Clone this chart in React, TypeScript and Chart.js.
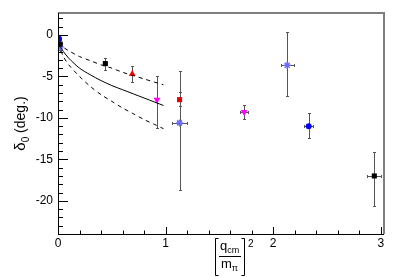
import React, { useEffect, useRef } from "react";
import { Chart, registerables } from "chart.js";

Chart.register(...registerables);

// ---------------- data ----------------
// black squares
const blackX = [0.02, 0.44, 2.94];
const blackY = [-1.1, -3.45, -17.0];
const blackXErr = [0, 0, 0.065];
const blackYLo = [-1.8, -4.2, -20.6];
const blackYHi = [-0.6, -2.8, -14.1];

// blue circles
const blueX = [0.01, 2.33];
const blueY = [-0.45, -11.0];
const blueXErr = [0, 0.04];
const blueYLo = [-0.8, -12.4];
const blueYHi = [-0.2, -9.4];

// light blue stars
const starX = [0.02, 1.13, 2.13];
const starY = [-1.45, -10.6, -3.65];
const starXErr = [0.01, 0.07, 0.06];
const starYLo = [-2.0, -18.7, -7.4];
const starYHi = [-0.9, -4.3, 0.3];

// red triangles
const triX = [0.69];
const triY = [-4.7];
const triXErr = [0];
const triYLo = [-5.7];
const triYHi = [-3.7];

// magenta inverted triangles
const magX = [0.92, 1.73];
const magY = [-7.8, -9.3];
const magXErr = [0, 0.04];
const magYLo = [-11.2, -10.1];
const magYHi = [-5.0, -8.5];

// red squares
const redSqX = [1.13];
const redSqY = [-7.8];
const redSqXErr = [0];
const redSqYLo = [-8.6];
const redSqYHi = [-6.9];

// theory curves
const curveX = [0, 0.05, 0.1, 0.2, 0.3, 0.4, 0.5, 0.6, 0.7, 0.8, 0.9, 0.98];
const solidY = [-1.0, -2.0, -2.8, -4.0, -4.8, -5.5, -6.1, -6.6, -7.1, -7.6, -8.1, -8.5];
const upperY = [-1.0, -1.5, -1.9, -2.6, -3.1, -3.6, -4.0, -4.5, -4.9, -5.3, -5.7, -6.0];
const lowerY = [-1.0, -2.6, -3.6, -5.0, -6.2, -7.2, -8.0, -8.8, -9.5, -10.2, -10.8, -11.3];

// axes
const xMin = 0;
const xMax = 3.03;
const yMin = -24;
const yMax = 2.65;
const xMajorStep = 1;
const xMinorStep = 0.2;
const yMajorStep = 5;
const yMinorStep = 1;

const FONT = "'Liberation Sans', Arial, Helvetica, sans-serif";

function pts(xs: number[], ys: number[]) {
  return xs.map((x, i) => ({ x, y: ys[i] }));
}

const errorBarPlugin = {
  id: "errorBars",
  beforeDatasetsDraw(chart: any) {
    const ctx = chart.ctx;
    const xs = chart.scales.x;
    const ys = chart.scales.y;
    ctx.save();
    ctx.strokeStyle = "#555555";
    ctx.lineWidth = 1;
    chart.data.datasets.forEach((ds: any) => {
      if (!ds.errYLo) return;
      ds.data.forEach((p: any, i: number) => {
        const px = Math.round(xs.getPixelForValue(p.x)) + 0.5;
        const py = Math.round(ys.getPixelForValue(p.y)) + 0.5;
        const lo = Math.round(ys.getPixelForValue(ds.errYLo[i])) + 0.5;
        const hi = Math.round(ys.getPixelForValue(ds.errYHi[i])) + 0.5;
        ctx.beginPath();
        ctx.moveTo(px, lo);
        ctx.lineTo(px, hi);
        ctx.moveTo(px - 1.5, lo);
        ctx.lineTo(px + 1.5, lo);
        ctx.moveTo(px - 1.5, hi);
        ctx.lineTo(px + 1.5, hi);
        const xe = ds.errX ? ds.errX[i] : 0;
        if (xe > 0) {
          const l = Math.round(xs.getPixelForValue(p.x - xe)) + 0.5;
          const r = Math.round(xs.getPixelForValue(p.x + xe)) + 0.5;
          ctx.moveTo(l, py);
          ctx.lineTo(r, py);
          ctx.moveTo(l, py - 1.5);
          ctx.lineTo(l, py + 1.5);
          ctx.moveTo(r, py - 1.5);
          ctx.lineTo(r, py + 1.5);
        }
        ctx.stroke();
      });
    });
    ctx.restore();
  },
};

const framePlugin = {
  id: "rootFrame",
  afterDraw(chart: any) {
    const ctx = chart.ctx;
    const { left, right, top, bottom } = chart.chartArea;
    const xs = chart.scales.x;
    const ys = chart.scales.y;
    ctx.save();
    // gray frame top/right
    ctx.strokeStyle = "#7f7f7f";
    ctx.lineWidth = 2;
    ctx.beginPath();
    ctx.moveTo(left, top);
    ctx.lineTo(right, top);
    ctx.lineTo(right, bottom);
    ctx.stroke();
    // black axes
    ctx.strokeStyle = "#000000";
    ctx.lineWidth = 1;
    ctx.beginPath();
    ctx.moveTo(left + 0.5, top);
    ctx.lineTo(left + 0.5, bottom + 0.5);
    ctx.lineTo(right, bottom + 0.5);
    ctx.stroke();
    // y ticks
    ctx.beginPath();
    const nY0 = Math.ceil(yMin / yMinorStep);
    const nY1 = Math.floor(yMax / yMinorStep);
    for (let k = nY0; k <= nY1; k++) {
      const v = k * yMinorStep;
      const major = Math.abs(v / yMajorStep - Math.round(v / yMajorStep)) < 1e-6;
      const py = Math.round(ys.getPixelForValue(v)) + 0.5;
      ctx.moveTo(left, py);
      ctx.lineTo(left + (major ? 10 : 5), py);
    }
    // x ticks
    const nX0 = Math.ceil(xMin / xMinorStep - 1e-6);
    const nX1 = Math.floor(xMax / xMinorStep + 1e-6);
    for (let k = nX0; k <= nX1; k++) {
      const v = k * xMinorStep;
      const major = Math.abs(v / xMajorStep - Math.round(v / xMajorStep)) < 1e-6;
      const px = Math.round(xs.getPixelForValue(v)) + 0.5;
      ctx.moveTo(px, bottom);
      ctx.lineTo(px, bottom - (major ? 7 : 3.5));
    }
    ctx.stroke();

    // y title: δ0 (deg.)
    ctx.fillStyle = "#000";
    ctx.save();
    ctx.translate(25, (top + bottom) / 2);
    ctx.rotate(-Math.PI / 2);
    ctx.textBaseline = "alphabetic";
    ctx.textAlign = "left";
    const bigF = `15px ${FONT}`;
    const subF = `10px ${FONT}`;
    const mainF = `14px ${FONT}`;
    ctx.font = bigF;
    const wD = ctx.measureText("δ").width;
    ctx.font = subF;
    const w0 = ctx.measureText("0").width;
    ctx.font = mainF;
    const wR = ctx.measureText(" (deg.)").width;
    const total = wD + w0 + wR;
    let cx = -total / 2;
    ctx.font = bigF;
    ctx.fillText("δ", cx, 0);
    cx += wD;
    ctx.font = subF;
    ctx.fillText("0", cx, 4);
    cx += w0;
    ctx.font = mainF;
    ctx.fillText(" (deg.)", cx, 0);
    ctx.restore();

    // x title: [q_cm / m_π]^2
    ctx.save();
    ctx.strokeStyle = "#000";
    ctx.lineWidth = 1;
    const bx0 = 215.5;
    const bx1 = 244.5;
    const by0 = 238.5;
    const by1 = 275.5;
    ctx.beginPath();
    ctx.moveTo(bx0 + 3, by0);
    ctx.lineTo(bx0, by0);
    ctx.lineTo(bx0, by1);
    ctx.lineTo(bx0 + 3, by1);
    ctx.moveTo(bx1 - 3, by0);
    ctx.lineTo(bx1, by0);
    ctx.lineTo(bx1, by1);
    ctx.lineTo(bx1 - 3, by1);
    // fraction line
    ctx.moveTo(219, 256.5);
    ctx.lineTo(241, 256.5);
    ctx.stroke();
    ctx.textAlign = "left";
    ctx.textBaseline = "alphabetic";
    ctx.font = `13px ${FONT}`;
    ctx.fillText("q", 220, 250);
    const wq = ctx.measureText("q").width;
    ctx.font = `9px ${FONT}`;
    ctx.fillText("cm", 220 + wq, 253);
    ctx.font = `13px ${FONT}`;
    ctx.fillText("m", 221, 268);
    const wm = ctx.measureText("m").width;
    ctx.font = `9px ${FONT}`;
    ctx.fillText("π", 221 + wm, 271);
    ctx.font = `10px ${FONT}`;
    ctx.fillText("2", 248, 247);
    ctx.restore();

    ctx.restore();
  },
};

export default function App() {
  const ref = useRef<HTMLCanvasElement | null>(null);

  useEffect(() => {
    if (!ref.current) return;
    const markerDs = (
      label: string,
      xs: number[],
      ys: number[],
      xe: number[],
      lo: number[],
      hi: number[],
      style: string,
      color: string,
      radius: number,
      rotation = 0
    ) => ({
      type: "scatter",
      label,
      data: pts(xs, ys),
      errX: xe,
      errYLo: lo,
      errYHi: hi,
      pointStyle: style,
      pointRadius: radius,
      pointRotation: rotation,
      backgroundColor: color,
      borderColor: color,
      borderWidth: style === "star" ? 1.5 : 0,
      showLine: false,
    });
    const curveDs = (label: string, ys: number[], dash: number[]) => ({
      type: "line",
      label,
      data: pts(curveX, ys),
      borderColor: "#000",
      borderWidth: 1,
      borderDash: dash,
      pointRadius: 0,
      fill: false,
      tension: 0.3,
    });

    const chart = new Chart(ref.current, {
      type: "scatter",
      data: {
        datasets: [
          curveDs("solid", solidY, []),
          curveDs("upper", upperY, [4, 4]),
          curveDs("lower", lowerY, [4, 4]),
          markerDs("black", blackX, blackY, blackXErr, blackYLo, blackYHi, "rect", "#000000", 3.6),
          markerDs("blue", blueX, blueY, blueXErr, blueYLo, blueYHi, "circle", "#0000ff", 3),
          markerDs("star", starX, starY, starXErr, starYLo, starYHi, "star", "#6b6bff", 3.5),
          markerDs("tri", triX, triY, triXErr, triYLo, triYHi, "triangle", "#ff0000", 4),
          markerDs("mag", magX, magY, magXErr, magYLo, magYHi, "triangle", "#ff00ff", 4, 180),
          markerDs("redsq", redSqX, redSqY, redSqXErr, redSqYLo, redSqYHi, "rect", "#e00000", 3.6),
        ] as any,
      },
      options: {
        animation: false,
        responsive: false,
        maintainAspectRatio: false,
        layout: { padding: { top: 13, right: 23, left: 0, bottom: 0 } },
        plugins: {
          legend: { display: false },
          tooltip: { enabled: false },
        },
        scales: {
          x: {
            type: "linear",
            min: xMin,
            max: xMax,
            grid: { display: false, drawTicks: false },
            border: { display: false },
            ticks: {
              stepSize: xMajorStep,
              includeBounds: false,
              padding: 2,
              color: "#000",
              font: { family: FONT, size: 12 },
              maxRotation: 0,
              autoSkip: false,
            },
            afterFit: (s: any) => {
              s.height = 43;
            },
          },
          y: {
            type: "linear",
            min: yMin,
            max: yMax,
            grid: { display: false, drawTicks: false },
            border: { display: false },
            ticks: {
              stepSize: yMajorStep,
              includeBounds: false,
              padding: 5,
              color: "#000",
              font: { family: FONT, size: 12 },
            },
            afterFit: (s: any) => {
              s.width = 58;
            },
          },
        },
      } as any,
      plugins: [errorBarPlugin, framePlugin],
    });
    return () => chart.destroy();
  }, []);

  return (
    <div style={{ position: "absolute", left: 0, top: 0, width: 407, height: 277, background: "#fff" }}>
      <canvas ref={ref} width={407} height={277} style={{ width: 407, height: 277, display: "block" }} />
    </div>
  );
}
